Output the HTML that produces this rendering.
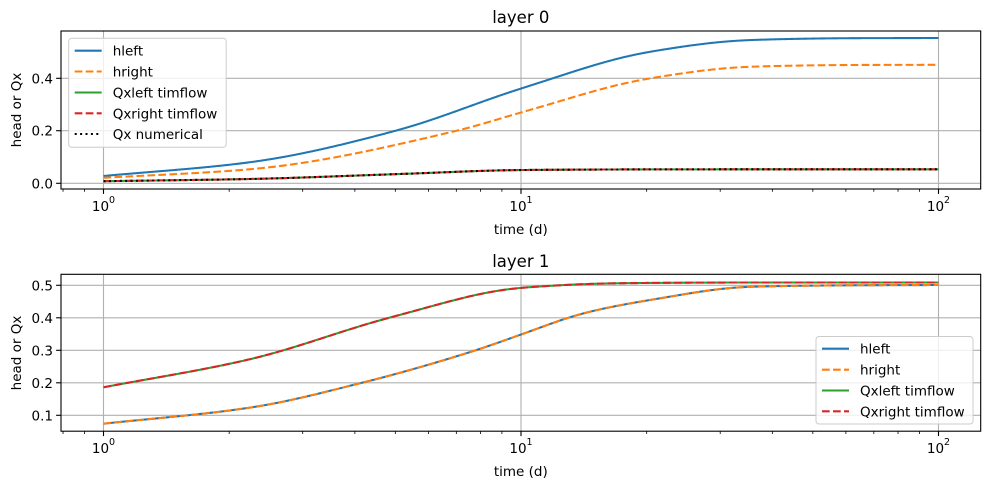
<!DOCTYPE html>
<html><head><meta charset="utf-8"><style>
body{margin:0;background:#fff;}
svg{display:block;font-family:"DejaVu Sans","Liberation Sans",sans-serif;}
</style></head><body>
<svg id="s" width="989" height="489" viewBox="0 0 989 489" xmlns="http://www.w3.org/2000/svg">
<rect width="989" height="489" fill="#fff"/>
<g id="g"></g>
<text x="520.8" y="23" font-size="16.5" text-anchor="middle" fill="#000">layer 0</text>
<text x="520.8" y="267" font-size="16.5" text-anchor="middle" fill="#000">layer 1</text>
<text x="520.8" y="234" font-size="13.5" text-anchor="middle">time (d)</text>
<text x="520.8" y="476" font-size="13.5" text-anchor="middle">time (d)</text>
<text transform="translate(21,110) rotate(-90)" font-size="13.5" text-anchor="middle">head or Qx</text>
<text transform="translate(21,353) rotate(-90)" font-size="13.5" text-anchor="middle">head or Qx</text>
</svg>
<script>
var NS="http://www.w3.org/2000/svg",G=document.getElementById('g');
function el(t,a,txt){var e=document.createElementNS(NS,t);for(var k in a)e.setAttribute(k,a[k]);if(txt!==undefined)e.textContent=txt;G.appendChild(e);return e;}
var L=61,R=980.7,x0=103.5,dec=417.5;
function X(t){return x0+Math.log10(t)*dec;}
function axes(top,bot,yt){
  [1,10,100].forEach(function(t){el('line',{x1:X(t),x2:X(t),y1:top,y2:bot,stroke:'#b0b0b0','stroke-width':1.1});});
  yt.forEach(function(p){el('line',{x1:L,x2:R,y1:p[1],y2:p[1],stroke:'#b0b0b0','stroke-width':1.1});
    el('line',{x1:L-4.9,x2:L,y1:p[1],y2:p[1],stroke:'#000','stroke-width':1.1});
    el('text',{x:L-8,y:p[1]+5,'font-size':13.5,'text-anchor':'end'},p[0]);});
  for(var e=-1;e<=2;e++)for(var k=1;k<10;k++){var t=k*Math.pow(10,e),x=X(t);if(x<L||x>R)continue;
    el('line',{x1:x,x2:x,y1:bot,y2:bot+(k==1?4.9:2.8),stroke:'#000','stroke-width':k==1?1.1:0.8});}
  [0,1,2].forEach(function(e){el('text',{x:X(Math.pow(10,e))-3,y:bot+22,'font-size':13.5,'text-anchor':'middle'},'10');
    el('text',{x:X(Math.pow(10,e))+8.5,y:bot+14,'font-size':9.5,'text-anchor':'middle'},''+e);});
  el('rect',{x:L,y:top,width:R-L,height:bot-top,fill:'none',stroke:'#000','stroke-width':1.1});
}
function mono(P){
  var n=P.length,xs=P.map(function(p){return p[0]}),ys=P.map(function(p){return p[1]});
  var d=[],m=[];for(var i=0;i<n-1;i++)d.push((ys[i+1]-ys[i])/(xs[i+1]-xs[i]));
  m[0]=d[0];m[n-1]=d[n-2];
  for(var i=1;i<n-1;i++){if(d[i-1]*d[i]<=0)m[i]=0;else{var w1=2*(xs[i+1]-xs[i])+(xs[i]-xs[i-1]),w2=(xs[i+1]-xs[i])+2*(xs[i]-xs[i-1]);m[i]=(w1+w2)/(w1/d[i-1]+w2/d[i]);}}
  function f(x){var i=0;while(i<n-2&&x>xs[i+1])i++;var h=xs[i+1]-xs[i],t=(x-xs[i])/h,t2=t*t,t3=t2*t;
    return (2*t3-3*t2+1)*ys[i]+(t3-2*t2+t)*h*m[i]+(-2*t3+3*t2)*ys[i+1]+(t3-t2)*h*m[i+1];}
  var xa=xs[0],xb=xs[n-1],raw=[];for(var x=xa;x<=xb;x+=1)raw.push([x,f(x)]);
  if(raw[raw.length-1][0]<xb)raw.push([xb,f(xb)]);
  var W=30,out=[];
  for(var i=0;i<raw.length;i++){var w=Math.min(W,i,raw.length-1-i),s=0,c=0;
    for(var j=-w;j<=w;j++){var g=Math.exp(-j*j/(2*(W/2.5)*(W/2.5)));s+=raw[i+j][1]*g;c+=g;}out.push([raw[i][0],s/c]);}
  return out;
}
function curve(pts,style){
  var q=mono(pts),d='M'+q.map(function(p){return p[0].toFixed(2)+' '+p[1].toFixed(2)}).join(' L');
  var a={d:d,fill:'none','stroke-width':2.05};for(var k in style)a[k]=style[k];el('path',a);
}
var B={stroke:'#1f77b4'},O={stroke:'#ff7f0e','stroke-dasharray':'7.7,3.3'},Gr={stroke:'#2ca02c'},Rd={stroke:'#d62728','stroke-dasharray':'7.7,3.3'},K={stroke:'#000','stroke-dasharray':'2,3.4'};
axes(31,189,[['0.0',183.3],['0.2',130.7],['0.4',78.3]]);
var xe=X(100);
curve([[103.5,176],[250,162.3],[396.7,130.5],[521.7,88.3],[650,51.7],[750,40],[850,38.2],[xe,38]],B);
curve([[103.5,177.8],[250,169.3],[458,130.5],[521.7,112.3],[650,78.3],[750,66.7],[850,65],[xe,64.8]],O);
var q=[[103.5,181.2],[250,179],[400,174],[521.7,170],[650,169.4],[800,169.3],[xe,169.3]];
curve(q,Gr);curve(q,Rd);curve(q,K);
axes(274.3,431.2,[['0.1',415.3],['0.2',382.8],['0.3',350.3],['0.4',317.8],['0.5',285.3]]);
var u=[[103.5,387.3],[250,359.3],[393,316.7],[521.7,287.7],[620,283.2],[750,282.5],[xe,282.5]];
var lo=[[103.5,423.7],[250,407.7],[360,383.3],[476.7,350],[521.7,334.3],[583,313.3],[650,300],[750,286.7],[850,285.3],[xe,285]];
curve(lo,B);curve(lo,O);curve(u,Gr);curve(u,Rd);
function legend(x,y,w,h,items,rows){
  el('rect',{x:x,y:y,width:w,height:h,rx:3,fill:'#fff','fill-opacity':0.8,stroke:'#ccc','stroke-width':1});
  items.forEach(function(it,i){var yy=rows[i];var a={x1:x+6,x2:x+33,y1:yy,y2:yy,'stroke-width':2.05};for(var k in it[1])a[k]=it[1][k];el('line',a);
    el('text',{x:x+44,y:yy+5,'font-size':13.5},it[0]);});
}
legend(68.7,38.3,157.5,109,[['hleft',B],['hright',O],['Qxleft timflow',Gr],['Qxright timflow',Rd],['Qx numerical',K]],[50.7,71.5,92.5,113.3,134]);
legend(816,336.5,157,87.5,[['hleft',B],['hright',O],['Qxleft timflow',Gr],['Qxright timflow',Rd]],[348.7,369.7,390.5,411.3]);
</script>
</body></html>
